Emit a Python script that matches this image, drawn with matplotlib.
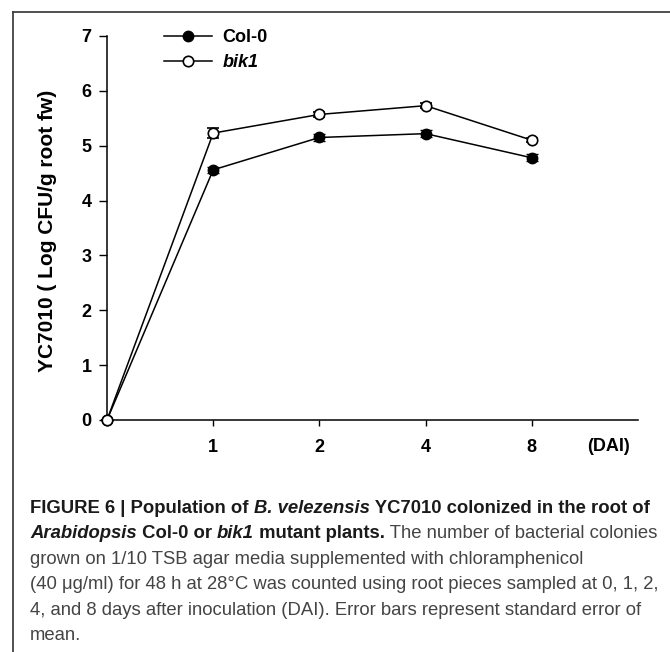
import numpy as np
import matplotlib
matplotlib.use('Agg')
import matplotlib.pyplot as plt
from matplotlib.lines import Line2D

### data
days = ['0', '1', '2', '4', '8']
col0 = [0, 4.56, 5.15, 5.22, 4.78]
col0_err = [0, 0.05, 0.06, 0.06, 0.06]
bik1 = [0, 5.23, 5.57, 5.73, 5.10]
bik1_err = [0, 0.09, 0.04, 0.05, 0.04]
yticks = [0, 1, 2, 3, 4, 5, 6, 7]

plt.rcParams['font.family'] = ['Liberation Sans', 'DejaVu Sans']

W, H = 670, 652
fig = plt.figure(figsize=(6.7, 6.52), dpi=100)
ax = fig.add_axes([107/W, 1-420/H, (638-107)/W, (420-36)/H])

xpos = np.arange(len(days))
ax.errorbar(xpos, col0, yerr=col0_err, color='black', lw=1.1, marker='o',
            ms=7.5, mfc='black', mec='black', capsize=4, elinewidth=1.1,
            clip_on=False, zorder=3)
ax.errorbar(xpos, bik1, yerr=bik1_err, color='black', lw=1.1, marker='o',
            ms=7.5, mfc='white', mec='black', mew=1.2, capsize=4, elinewidth=1.1,
            clip_on=False, zorder=4)

ax.set_xlim(0, 5)
ax.set_ylim(0, 7)
ax.set_xticks(xpos[1:])
ax.set_xticklabels(days[1:], fontsize=13, fontweight='bold')
ax.set_yticks(yticks)
ax.set_yticklabels([str(t) for t in yticks], fontsize=13, fontweight='bold')
ax.tick_params(axis='x', direction='out', length=4, width=1, pad=10)
ax.tick_params(axis='y', direction='out', length=6, width=1, pad=5)
for s in ['left', 'bottom']:
    ax.spines[s].set_linewidth(1.1)
ax.spines['top'].set_visible(False)
ax.spines['right'].set_visible(False)
ax.set_ylabel('YC7010 ( Log CFU/g root fw)', fontsize=15, fontweight='bold')
ax.yaxis.set_label_coords(-0.094, 0.492)
ax.text(4.72, -27/54.86, '(DAI)', fontsize=13, fontweight='bold', ha='center', va='center')

handles = [Line2D([], [], color='black', lw=1.1, marker='o', ms=7.5, mfc='black'),
           Line2D([], [], color='black', lw=1.1, marker='o', ms=7.5, mfc='white', mew=1.2)]
leg = ax.legend(handles, ['Col-0', 'bik1'], loc='center left',
                bbox_to_anchor=((164-107)/531, (420-50)/384),
                frameon=False, fontsize=13, handlelength=2.65, labelspacing=0.45,
                handletextpad=0.6, borderpad=0, borderaxespad=0)
for t in leg.get_texts():
    t.set_fontweight('bold')
leg.get_texts()[1].set_fontstyle('italic')

# figure frame (left and top)
fig.add_artist(Line2D([13/W, 13/W], [0, 1-12/H], color='#333333', lw=1.2))
fig.add_artist(Line2D([13/W, 1], [1-12/H, 1-12/H], color='#333333', lw=1.2))

# caption
cap = [
    [('FIGURE 6 | Population of ', 'bold', 'normal'), ('B. velezensis', 'bold', 'italic'),
     (' YC7010 colonized in the root of', 'bold', 'normal')],
    [('Arabidopsis', 'bold', 'italic'), (' Col-0 or ', 'bold', 'normal'), ('bik1', 'bold', 'italic'),
     (' mutant plants.', 'bold', 'normal'), (' The number of bacterial colonies', 'normal', 'normal')],
    [('grown on 1/10 TSB agar media supplemented with chloramphenicol', 'normal', 'normal')],
    [('(40 \u03bcg/ml) for 48 h at 28\u00b0C was counted using root pieces sampled at 0, 1, 2,', 'normal', 'normal')],
    [('4, and 8 days after inoculation (DAI). Error bars represent standard error of', 'normal', 'normal')],
    [('mean.', 'normal', 'normal')],
]
renderer = fig.canvas.get_renderer()
for i, line in enumerate(cap):
    x = 30/W
    y = 1 - (513 + i*25.4)/H
    for s, w, st in line:
        t = fig.text(x, y, s, fontsize=13.3, fontweight=w, fontstyle=st,
                     color='#1a1a1a' if w == 'bold' else '#444444', va='baseline')
        bb = t.get_window_extent(renderer)
        x = bb.x1 / fig.bbox.width

fig.savefig('out.png', dpi=100)
